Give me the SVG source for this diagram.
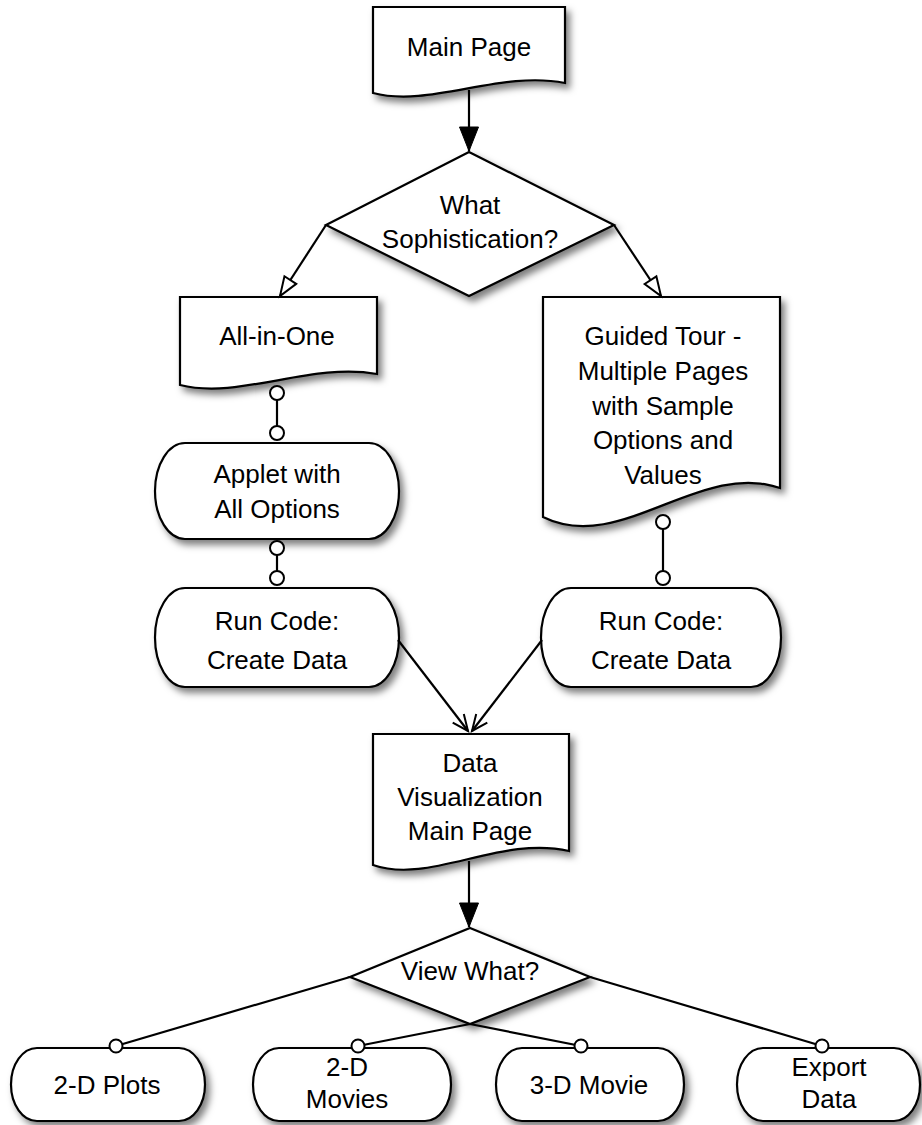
<svg xmlns="http://www.w3.org/2000/svg" width="922" height="1125" viewBox="0 0 922 1125">
<defs>
<filter id="sh" x="-10%" y="-10%" width="130%" height="130%">
<feDropShadow dx="4" dy="5" stdDeviation="3.5" flood-color="#000" flood-opacity="0.5"/>
</filter>
<marker id="fill" markerUnits="userSpaceOnUse" markerWidth="26" markerHeight="21" refX="24" refY="10" orient="auto" overflow="visible">
<path d="M0,0.5 L24,10 L0,19.5 z" fill="#000" stroke="#000" stroke-width="1"/>
</marker>
<marker id="open" markerUnits="userSpaceOnUse" markerWidth="22" markerHeight="18" refX="20" refY="8" orient="auto" overflow="visible">
<path d="M1,1 L20,8 L1,15 z" fill="#fff" stroke="#000" stroke-width="2"/>
</marker>
<marker id="vee" markerUnits="userSpaceOnUse" markerWidth="20" markerHeight="18" refX="18" refY="8" orient="auto" overflow="visible">
<path d="M2,1 L18,8 L2,15" fill="none" stroke="#000" stroke-width="2"/>
</marker>
</defs>
<style>
.shape{fill:#fff;stroke:#000;stroke-width:2.2;filter:url(#sh)}
.t{font-family:"Liberation Sans",Arial,Helvetica,sans-serif;font-size:26px;fill:#000;text-anchor:middle}
.c{fill:none;stroke:#000;stroke-width:2.2}
.dot{fill:#fff;stroke:#000;stroke-width:2}
</style>

<g id="main-page">
<path class="shape" d="M373,7 L565,7 L565,83 C500,70 430,108 373,93 Z"/>
<text class="t" x="469" y="56">Main Page</text>
</g>

<g id="what-sophistication">
<path class="shape" d="M469,152 L614,225 L469,296 L326,225 Z"/>
<text class="t" x="470" y="214">What</text>
<text class="t" x="470" y="248">Sophistication?</text>
</g>

<g id="all-in-one">
<path class="shape" d="M180,297 L377,297 L377,374 C310,362 240,400 180,385 Z"/>
<text class="t" x="277" y="345">All-in-One</text>
</g>

<g id="applet">
<rect class="shape" x="155" y="443" width="244" height="96" rx="30" ry="48"/>
<text class="t" x="277" y="483">Applet with</text>
<text class="t" x="277" y="518">All Options</text>
</g>

<g id="run-code-left">
<rect class="shape" x="155" y="588" width="244" height="99" rx="30" ry="49.5"/>
<text class="t" x="277" y="630">Run Code:</text>
<text class="t" x="277" y="669">Create Data</text>
</g>

<g id="guided-tour">
<path class="shape" d="M543,297 L780,297 L780,488 C700,460 620,555 543,517 Z"/>
<text class="t" x="663" y="345">Guided Tour -</text>
<text class="t" x="663" y="380">Multiple Pages</text>
<text class="t" x="663" y="415">with Sample</text>
<text class="t" x="663" y="449">Options and</text>
<text class="t" x="663" y="484">Values</text>
</g>

<g id="run-code-right">
<rect class="shape" x="541" y="588" width="240" height="99" rx="30" ry="49.5"/>
<text class="t" x="661" y="630">Run Code:</text>
<text class="t" x="661" y="669">Create Data</text>
</g>

<g id="data-vis">
<path class="shape" d="M373,734 L569,734 L569,851 C500,835 430,885 373,865 Z"/>
<text class="t" x="470" y="772">Data</text>
<text class="t" x="470" y="806">Visualization</text>
<text class="t" x="470" y="840">Main Page</text>
</g>

<g id="view-what">
<path class="shape" d="M470,928 L590,977 L470,1024 L350,977 Z"/>
<text class="t" x="470" y="980">View What?</text>
</g>

<g id="plots-2d">
<rect class="shape" x="11" y="1048" width="194" height="73" rx="26" ry="36.5"/>
<text class="t" x="107" y="1094">2-D Plots</text>
</g>

<g id="movies-2d">
<rect class="shape" x="253" y="1048" width="198" height="73" rx="26" ry="36.5"/>
<text class="t" x="347" y="1076">2-D</text>
<text class="t" x="347" y="1108">Movies</text>
</g>

<g id="movie-3d">
<rect class="shape" x="496" y="1048" width="188" height="73" rx="26" ry="36.5"/>
<text class="t" x="589" y="1094">3-D Movie</text>
</g>

<g id="export-data">
<rect class="shape" x="737" y="1048" width="183" height="73" rx="26" ry="36.5"/>
<text class="t" x="829" y="1076">Export</text>
<text class="t" x="829" y="1108">Data</text>
</g>

<g id="connectors">
<line class="c" x1="469" y1="90" x2="469" y2="151" marker-end="url(#fill)"/>
<line class="c" x1="326" y1="225" x2="280" y2="296" marker-end="url(#open)"/>
<line class="c" x1="614" y1="225" x2="661" y2="296" marker-end="url(#open)"/>
<line class="c" x1="277" y1="393" x2="277" y2="433"/>
<circle class="dot" cx="277" cy="393" r="7"/>
<circle class="dot" cx="277" cy="433" r="7"/>
<line class="c" x1="277" y1="548" x2="277" y2="578"/>
<circle class="dot" cx="277" cy="548" r="7"/>
<circle class="dot" cx="277" cy="578" r="7"/>
<line class="c" x1="663" y1="522" x2="663" y2="578"/>
<circle class="dot" cx="663" cy="522" r="7"/>
<circle class="dot" cx="663" cy="578" r="7"/>
<line class="c" x1="398" y1="640" x2="468" y2="731" marker-end="url(#vee)"/>
<line class="c" x1="542" y1="640" x2="472" y2="731" marker-end="url(#vee)"/>
<line class="c" x1="469" y1="861" x2="469" y2="927" marker-end="url(#fill)"/>
<line class="c" x1="350" y1="977" x2="116" y2="1046"/>
<line class="c" x1="470" y1="1024" x2="358" y2="1046"/>
<line class="c" x1="470" y1="1024" x2="581" y2="1046"/>
<line class="c" x1="590" y1="977" x2="822" y2="1046"/>
<circle class="dot" cx="116" cy="1046" r="6.5"/>
<circle class="dot" cx="358" cy="1046" r="6.5"/>
<circle class="dot" cx="581" cy="1046" r="6.5"/>
<circle class="dot" cx="822" cy="1046" r="6.5"/>
</g>
</svg>
